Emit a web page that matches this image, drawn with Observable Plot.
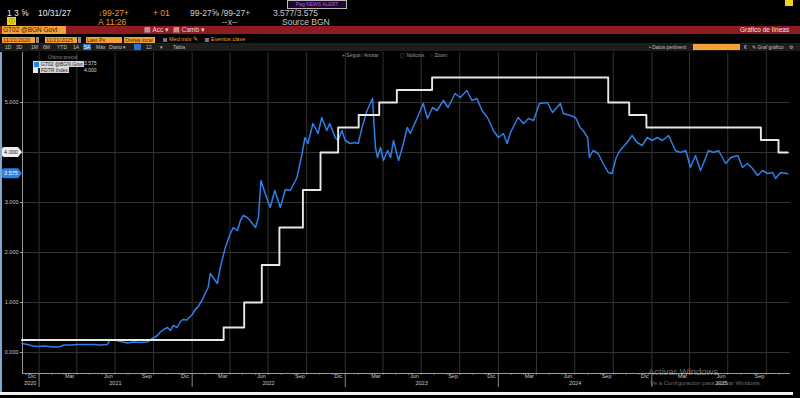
<!DOCTYPE html>
<html><head><meta charset="utf-8">
<script src="https://cdn.jsdelivr.net/npm/d3@7"></script>
<script src="https://cdn.jsdelivr.net/npm/@observablehq/plot@0.6"></script>
<style>
html,body{margin:0;padding:0;background:#000;width:800px;height:398px;overflow:hidden;font-family:"Liberation Sans",Arial,sans-serif;}
.a{position:absolute;white-space:nowrap;line-height:1;}
.r1{font-size:8.5px;top:9px;}
.r2{font-size:8.5px;top:18px;}
.ob{position:absolute;background:#f4a236;color:#3d1f00;font-size:5.5px;line-height:6px;height:6px;top:37px;padding-left:1px;white-space:nowrap;}
.g4{position:absolute;top:44px;font-size:5px;color:#c0c0c0;white-space:nowrap;line-height:6px;}
.g5{position:absolute;top:52px;font-size:5px;color:#9a9a9a;white-space:nowrap;line-height:6px;}
</style></head><body>
<div id="hdr">
  <div class="a" style="left:287px;top:0px;width:58px;height:7px;border:1px solid #bbb;background:#1c0829;color:#b45be6;font-size:5px;line-height:7px;text-align:center;">Pag NEWS ALERT</div>
  <div class="a" style="left:785px;top:0px;width:8px;height:6px;background:#f2d21b;"></div>
  <div class="a r1" style="left:7px;color:#e6e6e6;">1 3 ⅝</div>
  <div class="a r1" style="left:38px;color:#e6e6e6;">10/31/27</div>
  <div class="a r1" style="left:98px;color:#f59a23;">↓99-27+</div>
  <div class="a r1" style="left:153px;color:#f59a23;">+ 01</div>
  <div class="a r1" style="left:190px;color:#d0d0d0;">99-27⅝ /99-27+</div>
  <div class="a r1" style="left:273px;color:#c8c8c8;">3.577/3.575</div>
  <div class="a" style="left:7px;top:17px;width:9px;height:8px;background:#f2d21b;color:#222;font-size:6px;line-height:8px;text-align:center;">ⓘ</div>
  <div class="a r2" style="left:98px;color:#f59a23;">A 11:26</div>
  <div class="a r2" style="left:222px;color:#bdbdbd;">--x--</div>
  <div class="a r2" style="left:282px;color:#c8c8c8;">Source BGN</div>
  <div class="a" style="left:0;top:26px;width:800px;height:8px;background:#8e1b22;"></div>
  <div class="a" style="left:2px;top:26px;width:63px;height:8px;background:#f0a23a;color:#3a1a00;font-size:6.5px;line-height:8px;padding-left:1px;">GT02 @BGN Govt</div>
  <div class="a" style="left:144px;top:27px;color:#f3d6d6;font-size:6.5px;">▤ Acc ▾</div>
  <div class="a" style="left:173px;top:27px;color:#f3d6d6;font-size:6.5px;">▤ Camb ▾</div>
  <div class="a" style="left:740px;top:27px;color:#f3e6e6;font-size:6.5px;">Gráfico de líneas</div>
  <div class="ob" style="left:2px;width:32px;">11/21/2020</div>
  <div class="a" style="left:36px;top:37px;width:3px;height:6px;background:#8a8a8a;"></div>
  <div class="ob" style="left:45px;width:31px;">11/21/2025</div>
  <div class="a" style="left:78px;top:37px;width:3px;height:6px;background:#8a8a8a;"></div>
  <div class="ob" style="left:86px;width:35px;">Last Px</div>
  <div class="ob" style="left:124px;width:30px;">Divisa local</div>
  <div class="a" style="left:163px;top:38px;width:4px;height:4px;background:#777;"></div>
  <div class="a" style="left:169px;top:37px;color:#f0a030;font-size:5.5px;">Med móv ✎</div>
  <div class="a" style="left:205px;top:38px;width:4px;height:4px;background:#777;"></div>
  <div class="a" style="left:211px;top:37px;color:#f0a030;font-size:5.5px;">Eventos clave</div>
  <div class="a" style="left:0;top:43px;width:800px;height:8px;background:#1d1d1d;"></div>
  <div class="g4" style="left:5px;">1D</div>
  <div class="g4" style="left:16px;">3D</div>
  <div class="g4" style="left:31px;">1M</div>
  <div class="g4" style="left:43px;">6M</div>
  <div class="g4" style="left:57px;">YTD</div>
  <div class="g4" style="left:73px;">1A</div>
  <div class="g4" style="left:83px;background:#2c6fd1;color:#fff;padding:0 1px;">5A</div>
  <div class="g4" style="left:96px;">Máx</div>
  <div class="g4" style="left:109px;">Diario ▾</div>
  <div class="g4" style="left:134px;width:7px;height:6px;background:#2c6fd1;"></div>
  <div class="g4" style="left:146px;">12</div>
  <div class="g4" style="left:160px;">▾</div>
  <div class="g4" style="left:173px;">Tabla</div>
  <div class="g4" style="left:649px;">• Datos pertinent</div>
  <div class="g4" style="left:693px;width:47px;height:6px;background:#f4a236;"></div>
  <div class="g4" style="left:744px;">€</div>
  <div class="g4" style="left:752px;">✎ Graf gráfico</div>
  <div class="g4" style="left:789px;">⚙</div>
  <div class="g5" style="left:342px;">+ Seguir</div>
  <div class="g5" style="left:362px;">⁄ Anotar</div>
  <div class="g5" style="left:400px;">▢ Noticias</div>
  <div class="g5" style="left:430px;">○ Zoom</div>
</div>
<div id="chart" style="position:absolute;left:0;top:52px;"></div>
<div class="a" style="left:0;top:52px;width:2px;height:340px;background:#7fa8cc;"></div>
<div id="legend" class="a" style="left:31px;top:55px;width:68px;height:19px;"></div>
<div class="a" style="left:648px;top:367px;color:rgba(215,215,215,0.5);font-size:9.5px;">Activar Windows</div>
<div class="a" style="left:650px;top:380px;color:rgba(215,215,215,0.5);font-size:6px;">Ve a Configuración para activar Windows.</div>
<div class="a" style="left:0;top:392px;width:793px;height:3px;background:#f2f2f2;"></div>
<script>
// ---------- DATA ----------
const blueName = "GT02 @BGN Govt";
const fdtrName = "FDTR Index";
const blueDates = [
"2020-11-21","2020-12-04","2020-12-18","2020-12-30","2021-01-12","2021-01-25","2021-02-03","2021-02-12","2021-02-21","2021-03-01",
"2021-03-17","2021-04-05","2021-04-27","2021-05-12","2021-05-27","2021-06-13","2021-06-19","2021-07-01","2021-07-14","2021-07-31",
"2021-08-14","2021-08-31","2021-09-15","2021-09-23","2021-10-01","2021-10-10","2021-10-17","2021-10-25","2021-11-03","2021-11-10",
"2021-11-17","2021-11-26","2021-12-04","2021-12-10","2021-12-19","2022-01-01","2022-01-10","2022-01-14","2022-01-24","2022-02-01",
"2022-02-08","2022-02-13","2022-02-20","2022-03-02","2022-03-09","2022-03-21","2022-04-02","2022-04-09","2022-04-19","2022-04-26",
"2022-05-03","2022-05-12","2022-05-19","2022-06-01","2022-06-08","2022-06-14","2022-06-24","2022-07-06","2022-07-17","2022-07-25",
"2022-07-30","2022-08-06","2022-08-11","2022-08-23","2022-09-08","2022-09-20","2022-09-27","2022-10-04","2022-10-16","2022-10-28",
"2022-11-06","2022-11-18","2022-11-25","2022-12-08","2022-12-15","2022-12-24","2023-01-01","2023-01-13","2023-01-25","2023-02-01",
"2023-02-10","2023-02-22","2023-03-07","2023-03-10","2023-03-14","2023-03-19","2023-03-26","2023-04-02","2023-04-12","2023-04-19",
"2023-04-26","2023-05-08","2023-05-17","2023-05-29","2023-06-05","2023-06-22","2023-07-06","2023-07-16","2023-07-28","2023-08-08",
"2023-08-23","2023-09-03","2023-09-20","2023-10-02","2023-10-18","2023-10-30","2023-11-11","2023-11-23","2023-12-06","2023-12-13",
"2023-12-20","2024-01-01","2024-01-13","2024-01-22","2024-01-30","2024-02-05","2024-02-17","2024-03-01","2024-03-13","2024-03-25",
"2024-04-08","2024-04-27","2024-05-09","2024-05-28","2024-06-04","2024-06-21","2024-07-03","2024-07-14","2024-07-21","2024-08-01",
"2024-08-05","2024-08-14","2024-08-26","2024-09-07","2024-09-19","2024-09-28","2024-10-08","2024-10-17","2024-11-03","2024-11-15",
"2024-11-27","2024-12-09","2024-12-21","2025-01-02","2025-01-14","2025-01-26","2025-02-10","2025-02-26","2025-03-10","2025-03-23",
"2025-04-03","2025-04-15","2025-04-27","2025-05-04","2025-05-16","2025-05-28","2025-06-09","2025-06-26","2025-07-08","2025-07-25",
"2025-08-05","2025-08-17","2025-08-29","2025-09-10","2025-09-22","2025-10-04","2025-10-16","2025-10-23","2025-11-04","2025-11-21"
];
const blueValues = [
0.18,0.16,0.13,0.12,0.13,0.12,0.11,0.11,0.12,0.15,
0.15,0.16,0.16,0.16,0.15,0.16,0.26,0.25,0.22,0.19,
0.21,0.20,0.21,0.25,0.29,0.34,0.41,0.46,0.50,0.44,
0.54,0.50,0.62,0.66,0.65,0.76,0.88,0.90,1.04,1.18,
1.30,1.58,1.50,1.38,1.70,2.10,2.38,2.50,2.44,2.64,
2.74,2.70,2.64,2.50,2.70,3.44,3.18,2.90,3.24,3.04,
2.90,3.10,3.26,3.24,3.50,3.98,4.30,4.18,4.58,4.38,
4.70,4.44,4.58,4.30,4.24,4.44,4.24,4.18,4.20,4.18,
4.50,4.84,5.08,4.64,4.10,3.90,4.10,3.84,4.04,3.90,
4.24,3.84,4.10,4.50,4.38,4.70,4.98,4.68,4.90,4.84,
5.04,4.90,5.18,5.10,5.24,5.04,5.08,4.84,4.70,4.58,
4.44,4.30,4.38,4.18,4.40,4.50,4.70,4.58,4.68,4.64,
4.98,5.00,4.80,4.98,4.78,4.74,4.70,4.50,4.44,4.30,
3.90,4.04,3.98,3.78,3.60,3.58,3.90,4.04,4.20,4.34,
4.20,4.14,4.30,4.24,4.30,4.24,4.34,4.04,4.00,4.04,
3.70,3.94,3.64,3.78,4.04,4.00,4.04,3.78,3.90,3.94,
3.70,3.78,3.68,3.54,3.64,3.58,3.60,3.48,3.60,3.575
];
const fdtrDates = ["2020-11-21","2022-03-17","2022-05-05","2022-06-16","2022-07-28","2022-09-22","2022-11-03","2022-12-15",
  "2023-02-02","2023-03-23","2023-05-04","2023-07-27","2024-09-19","2024-11-08","2024-12-19","2025-09-18","2025-10-30","2025-11-21"];
const fdtrValues = [0.25,0.50,1.00,1.75,2.50,3.25,4.00,4.50,4.75,5.00,5.25,5.50,5.00,4.75,4.50,4.25,4.00,4.00];

const yTicks = [0,1,2,3,4,5];
const monthLabelDates = ["2020-12-15","2021-03-15","2021-06-15","2021-09-15","2021-12-15","2022-03-15","2022-06-15","2022-09-15",
  "2022-12-15","2023-03-15","2023-06-15","2023-09-15","2023-12-15","2024-03-15","2024-06-15","2024-09-15","2024-12-15",
  "2025-03-15","2025-06-15","2025-09-15"];
const monthLabels = ["Dic","Mar","Jun","Sep","Dic","Mar","Jun","Sep","Dic","Mar","Jun","Sep","Dic","Mar","Jun","Sep","Dic","Mar","Jun","Sep"];
const yearLabelDates = ["2020-12-11","2021-07-02","2022-07-02","2023-07-02","2024-07-02","2025-06-16"];
const yearLabels = ["2020","2021","2022","2023","2024","2025"];
const legendHeader = "Último precio";

// ---------- BUILD ----------
const P = s => new Date(s + "T00:00:00Z");
const blue = blueDates.map((d,i)=>({date:P(d), value:blueValues[i]}));
const fdtr = fdtrDates.map((d,i)=>({date:P(d), value:fdtrValues[i]}));
const monthText = monthLabelDates.map((d,i)=>({date:P(d), label:monthLabels[i]}));
const yearText = yearLabelDates.map((d,i)=>({date:P(d), label:yearLabels[i]}));
const xDomain = [new Date("2020-11-22T10:00:00Z"), new Date("2025-11-27T14:00:00Z")];
const yDomain = [-0.42, 6.0];
const quarterStarts = d3.utcMonth.every(3).range(new Date("2021-01-01T00:00:00Z"), xDomain[1]);
const monthStarts = d3.utcMonth.range(new Date("2020-12-01T00:00:00Z"), xDomain[1]);
const yearStarts = d3.utcYear.range(new Date("2021-01-01T00:00:00Z"), xDomain[1]);
const fmt = d3.format(".3f");
const blueColor = "#2e7fe8";
const whiteColor = "#e8e8e8";

const chart = Plot.plot({
  width: 800, height: 346,
  marginLeft: 22, marginRight: 10, marginTop: 0, marginBottom: 25,
  style: {background: "transparent", color: "#c8c8c8", fontFamily: "'Liberation Sans', Arial, sans-serif", overflow: "visible"},
  x: {type: "utc", domain: xDomain, label: null},
  y: {domain: yDomain, label: null},
  marks: [
    Plot.gridX(quarterStarts, {stroke: "#333", strokeOpacity: 1}),
    Plot.gridY(yTicks, {stroke: "#333", strokeOpacity: 1}),
    Plot.ruleX([xDomain[0]], {stroke: "#9a9a9a"}),
    Plot.ruleY([yDomain[0]], {stroke: "#9a9a9a"}),
    Plot.axisY(yTicks, {anchor: "left", label: null, tickFormat: fmt, tickSize: 2, tickPadding: 2, fontSize: 5.5, stroke: "#aaa"}),
    Plot.axisX(monthStarts, {anchor: "bottom", label: null, tickSize: 1.5, tickFormat: () => "", stroke: "#aaa"}),
    Plot.axisX(yearStarts, {anchor: "bottom", label: null, tickSize: 14, tickFormat: () => "", stroke: "#888"}),
    Plot.text(monthText, {x: "date", text: "label", frameAnchor: "bottom", dy: 4, fontSize: 5.5, fill: "#c8c8c8"}),
    Plot.text(yearText, {x: "date", text: "label", frameAnchor: "bottom", dy: 11, fontSize: 5.5, fill: "#c8c8c8"}),
    Plot.line(blue, {x: "date", y: "value", stroke: blueColor, strokeWidth: 1.5}),
    Plot.line(fdtr, {x: "date", y: "value", curve: "step-after", stroke: whiteColor, strokeWidth: 1.9})
  ]
});
document.getElementById("chart").appendChild(chart);

// last-value tags on the left edge, positioned through the y scale
const ys = chart.scale("y");
const svg = d3.select(chart);
const tags = [
  {v: fdtrValues[fdtrValues.length-1], fill: "#efefef", color: "#111"},
  {v: blueValues[blueValues.length-1], fill: blueColor, color: "#fff"}
];
for (const t of tags) {
  const y = ys.apply(t.v);
  const g = svg.append("g").attr("transform", `translate(0,${y})`);
  g.append("path").attr("d", "M4,-5 H18 L22,0 L18,5 H4 Q2,5 2,3 V-3 Q2,-5 4,-5 Z").attr("fill", t.fill);
  g.append("text").attr("x", 11).attr("y", 0).attr("dy", "0.35em").attr("text-anchor", "middle")
    .attr("font-size", 5.5).attr("fill", t.color).text(fmt(t.v));
}

// legend
const lg = document.getElementById("legend");
lg.innerHTML = `
 <div class="a" style="left:17px;top:0px;font-size:5px;color:#8a8a8a;">${legendHeader}</div>
 <div class="a" style="left:2px;top:6px;width:5px;height:5px;background:${blueColor};border:0.5px solid #ddd;"></div>
 <div class="a" style="left:9px;top:5.5px;height:6px;padding:0 1px;background:#d8d8d8;color:#222;font-size:5px;line-height:6px;">${blueName}</div>
 <div class="a" style="left:53px;top:6px;font-size:5px;color:#ddd;">${fmt(blueValues[blueValues.length-1])}</div>
 <div class="a" style="left:2px;top:12.5px;width:5px;height:5px;background:${whiteColor};"></div>
 <div class="a" style="left:9px;top:12px;height:6px;padding:0 1px;background:#d8d8d8;color:#222;font-size:5px;line-height:6px;">${fdtrName}</div>
 <div class="a" style="left:53px;top:12.5px;font-size:5px;color:#ddd;">${fmt(fdtrValues[fdtrValues.length-1])}</div>`;
</script>
</body></html>
